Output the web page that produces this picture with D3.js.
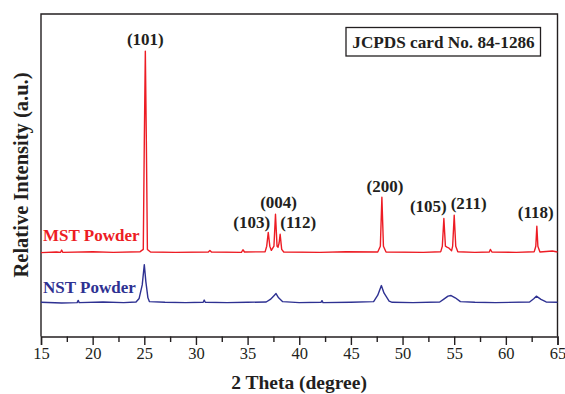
<!DOCTYPE html>
<html>
<head>
<meta charset="utf-8">
<script src="https://cdn.jsdelivr.net/npm/d3@7"></script>
<style>
  html, body { margin: 0; padding: 0; background: #fff; }
  svg { display: block; }
  text { font-family: "Liberation Serif", "Times New Roman", serif; fill: #231f20; }
</style>
</head>
<body>
<svg id="chart" width="565" height="394"></svg>
<script>
// ---- data (2θ in degrees, relative intensity in a.u., with vertical offset) ----
const mstAngles = [15,16.5,16.9,17.0,17.1,20,22,24.6,24.9,25.0,25.1,25.2,25.3,25.6,28,31.2,31.35,31.5,34.4,34.55,34.7,36.7,36.85,37.0,37.15,37.3,37.55,37.7,37.85,37.95,38.05,38.15,38.3,38.5,42,44.5,47.6,47.85,48.0,48.15,48.4,52,53.7,53.85,54.0,54.15,54.3,54.5,54.75,54.85,55.0,55.15,55.35,57,58.4,58.5,58.65,61,62.75,62.9,63.0,63.1,63.3,64.5,65];
const mstValues = [26.0,26.2,26.1,26.8,26.1,26.3,26.1,26.3,27.0,60,88.5,60,27.0,26.2,26.1,26.2,26.7,26.2,26.1,26.9,26.2,26.3,28,32.3,28,26.7,28,37.9,28,27.7,29,31.7,27,26.2,26.1,26.3,26.2,28,43.2,28,26.2,26.1,26.3,28,36.6,28,27.7,27.4,26.6,28,37.6,28,26.3,26.1,26.2,27.0,26.2,26.1,26.3,28,34.2,28,26.2,26.5,26.2];

const nstAngles = [15,17,18.5,18.6,18.7,21,23,24.2,24.5,24.8,25.0,25.15,25.35,25.5,27,29,30.7,30.8,30.9,33,35,36.8,37.2,37.6,37.75,38.0,38.4,40,42.1,42.2,42.3,45,47.2,47.6,47.95,48.2,48.7,49,51,53.6,54.0,54.4,54.7,55.1,55.6,57,59,62.3,62.7,62.95,63.4,63.9,65];
const nstValues = [10.6,10.4,10.5,11.2,10.5,10.7,10.5,10.7,11.8,16,22.3,17,12,10.8,10.6,10.5,10.6,11.3,10.6,10.5,10.6,10.7,11.5,12.8,13.3,12,10.8,10.5,10.6,11.1,10.5,10.6,10.8,12.8,15.8,13.5,11,10.6,10.5,10.7,11.6,12.5,12.7,12,10.8,10.6,10.5,10.7,11.7,12.5,11.5,10.7,10.6];

const peakLabels = ["(101)","(103)","(004)","(112)","(200)","(105)","(211)","(118)"];
const peakLabelAngles = [25.1,35.4,38.0,39.9,48.3,52.5,56.4,62.9];
const peakLabelValues = [90.4,33.5,39.8,33.5,44.8,38.6,39.4,36.6];

const seriesNames = ["MST Powder","NST Powder"];
const seriesLabelValues = [29.5,13.6];

const xTicks = [15,20,25,30,35,40,45,50,55,60,65];
const xMinorTicks = [17.5,22.5,27.5,32.5,37.5,42.5,47.5,52.5,57.5,62.5];

const cardText = "JCPDS card No. 84-1286";

// ---- layout ----
const svg = d3.select("#chart");
const mLeft = 41, mRight = 557.5, mTop = 14, mBottom = 336.5;
const x = d3.scaleLinear().domain([15, 65]).range([mLeft, mRight]);
const y = d3.scaleLinear().domain([0, 100]).range([mBottom, mTop]);
const ink = "#231f20";
const red = "#ed1c24";
const blue = "#2e3192";

// frame (top, left, right)
svg.append("path")
  .attr("d", `M${mLeft},${mBottom} L${mLeft},${mTop} L${mRight},${mTop} L${mRight},${mBottom}`)
  .attr("fill", "none").attr("stroke", ink).attr("stroke-width", 1.4);

// x axis
const xAxis = d3.axisBottom(x).tickValues(xTicks).tickSize(8.5).tickPadding(2.5).tickFormat(d3.format("d"));
const gx = svg.append("g").attr("transform", `translate(0,${mBottom})`).call(xAxis);
gx.select(".domain").attr("stroke", ink).attr("stroke-width", 1.4);
gx.selectAll(".tick line").attr("stroke", ink).attr("stroke-width", 1.4);
gx.selectAll(".tick text").attr("font-family", "Liberation Serif, serif").attr("font-size", 16.5).attr("fill", ink);
const gxm = svg.append("g").attr("transform", `translate(0,${mBottom})`)
  .call(d3.axisBottom(x).tickValues(xMinorTicks).tickSize(5.5).tickFormat(""));
gxm.select(".domain").remove();
gxm.selectAll(".tick line").attr("stroke", ink).attr("stroke-width", 1.4);

// lines
const line = d3.line().x(d => x(d[0])).y(d => y(d[1]));
const mst = mstAngles.map((a, i) => [a, mstValues[i]]);
const nst = nstAngles.map((a, i) => [a, nstValues[i]]);
svg.append("path").datum(nst).attr("d", line).attr("fill", "none").attr("stroke", blue).attr("stroke-width", 1.4).attr("stroke-linejoin", "round");
svg.append("path").datum(mst).attr("d", line).attr("fill", "none").attr("stroke", red).attr("stroke-width", 1.4).attr("stroke-linejoin", "round");

// peak labels
svg.selectAll(".peak").data(peakLabels).enter().append("text")
  .attr("class", "peak")
  .attr("x", (d, i) => x(peakLabelAngles[i]))
  .attr("y", (d, i) => y(peakLabelValues[i]))
  .attr("text-anchor", "middle")
  .attr("font-weight", "bold").attr("font-size", 17)
  .text(d => d);

// series labels
svg.selectAll(".sname").data(seriesNames).enter().append("text")
  .attr("class", "sname")
  .attr("x", x(15.2))
  .attr("y", (d, i) => y(seriesLabelValues[i]))
  .attr("font-weight", "bold").attr("font-size", 17)
  .style("fill", (d, i) => i === 0 ? red : blue)
  .text(d => d);

// JCPDS box
const card = svg.append("g");
card.append("rect").attr("x", 346).attr("y", 27.5).attr("width", 194.5).attr("height", 28.5)
  .attr("fill", "#fff").attr("stroke", ink).attr("stroke-width", 1.3);
card.append("text").attr("x", 443.5).attr("y", 47.5).attr("text-anchor", "middle")
  .attr("font-weight", "bold").attr("font-size", 17.2).text(cardText);

// axis titles
svg.append("text").attr("x", 299).attr("y", 388.5).attr("text-anchor", "middle")
  .attr("font-weight", "bold").attr("font-size", 19.5).text("2 Theta (degree)");
svg.append("text").attr("transform", `translate(28,175) rotate(-90)`)
  .attr("text-anchor", "middle").attr("font-weight", "bold").attr("font-size", 20.5)
  .text("Relative Intensity (a.u.)");
</script>
</body>
</html>
